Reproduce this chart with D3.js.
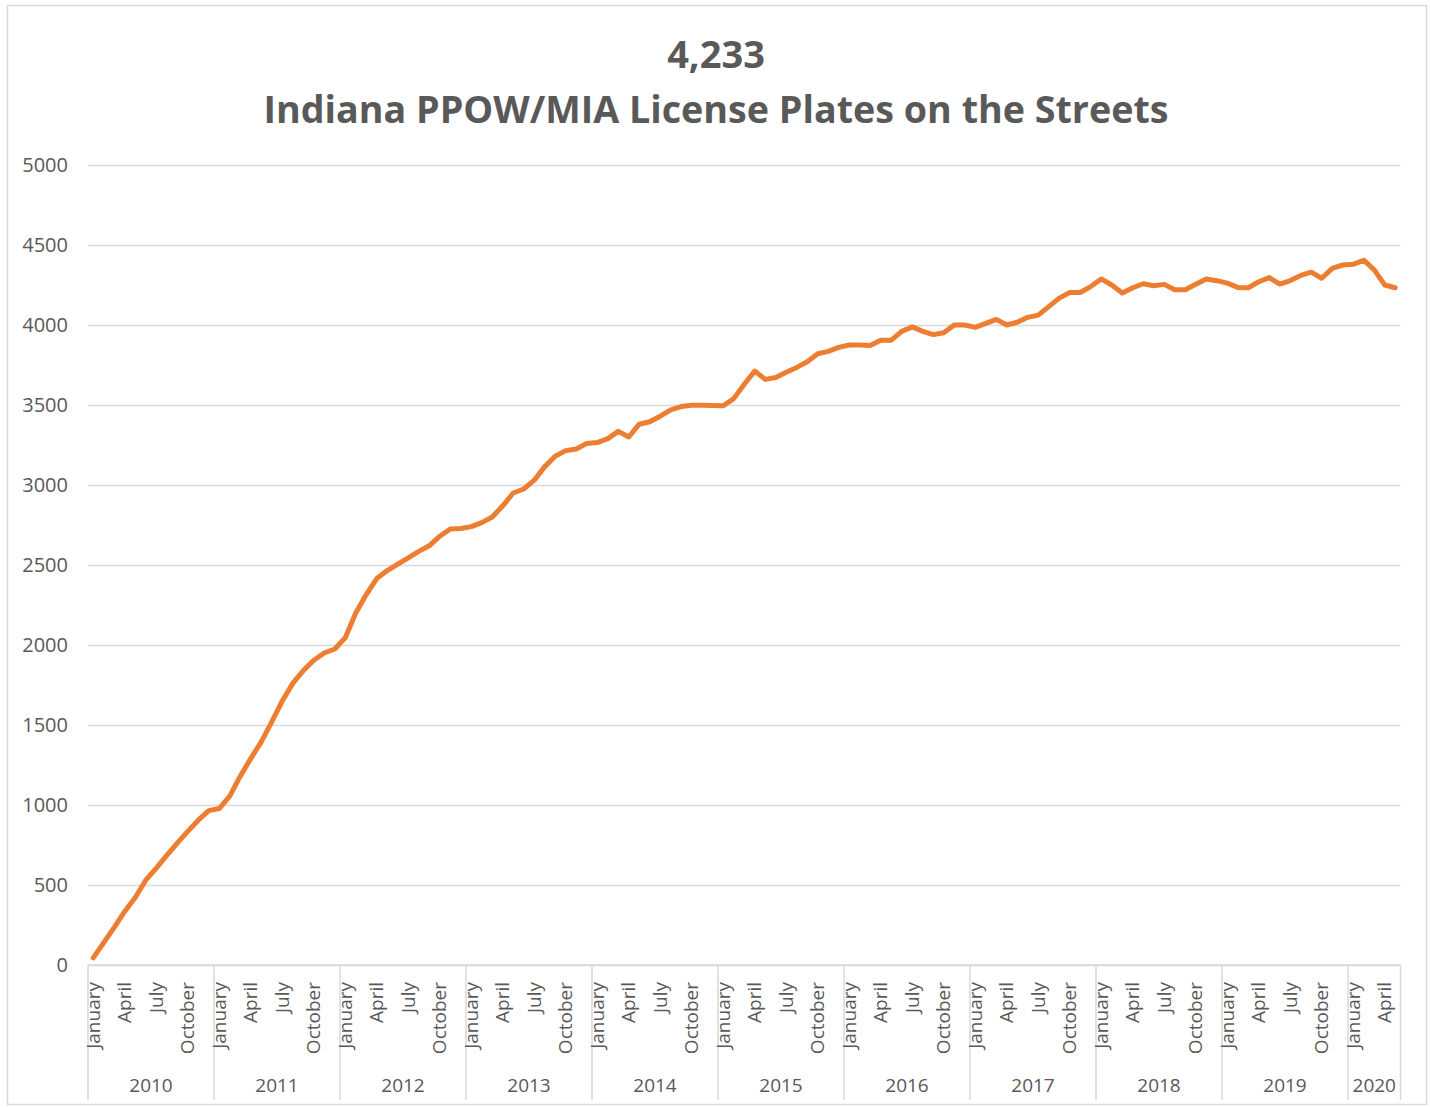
<!DOCTYPE html>
<html>
<head>
<meta charset="utf-8">
<title>Indiana PPOW/MIA License Plates on the Streets</title>
<script src="https://cdn.jsdelivr.net/npm/d3@7"></script>
<style>
  html, body { margin: 0; padding: 0; background: #ffffff; }
  #chart { width: 1430px; height: 1107px; }
  text { font-family: "Open Sans", "Liberation Sans", sans-serif; fill: #595959; }
</style>
</head>
<body>
<div id="chart"></div>
<script>
// Monthly counts of PPOW/MIA plates (January 2010 - May 2020).
const counts2010 = [45, 140, 235, 335, 422, 530, 605, 685, 762, 835, 905, 965];
const counts2011 = [978, 1055, 1180, 1290, 1395, 1520, 1650, 1760, 1840, 1905, 1950, 1975];
const counts2012 = [2045, 2200, 2315, 2415, 2465, 2505, 2545, 2585, 2620, 2680, 2725, 2728];
const counts2013 = [2740, 2765, 2800, 2870, 2950, 2975, 3030, 3115, 3180, 3215, 3225, 3260];
const counts2014 = [3265, 3290, 3335, 3300, 3380, 3395, 3430, 3470, 3490, 3498, 3498, 3497];
const counts2015 = [3495, 3540, 3630, 3712, 3660, 3672, 3705, 3735, 3770, 3820, 3835, 3860];
const counts2016 = [3875, 3875, 3872, 3905, 3905, 3960, 3988, 3960, 3940, 3952, 4000, 4000];
const counts2017 = [3985, 4010, 4035, 4000, 4017, 4048, 4062, 4115, 4168, 4203, 4203, 4240];
const counts2018 = [4288, 4250, 4200, 4233, 4258, 4245, 4254, 4220, 4220, 4255, 4288, 4277];
const counts2019 = [4262, 4235, 4233, 4270, 4296, 4255, 4278, 4310, 4330, 4292, 4354, 4375];
const counts2020 = [4379, 4405, 4345, 4250, 4233];

const years = [2010, 2011, 2012, 2013, 2014, 2015, 2016, 2017, 2018, 2019, 2020];
const monthNames = ["January", "February", "March", "April", "May", "June",
  "July", "August", "September", "October", "November", "December"];
const labeledMonths = ["January", "April", "July", "October"];
const yTicks = [0, 500, 1000, 1500, 2000, 2500, 3000, 3500, 4000, 4500, 5000];
const titleLines = ["4,233", "Indiana PPOW/MIA License Plates on the Streets"];

(function drawPlatesChart() {
  "use strict";

  const yearCounts = [counts2010, counts2011, counts2012, counts2013, counts2014, counts2015,
    counts2016, counts2017, counts2018, counts2019, counts2020];

  // One record per month, keyed by its running index.
  const records = [];
  years.forEach(function addYear(year, yi) {
    yearCounts[yi].forEach(function addMonth(value, mi) {
      records.push({ index: records.length, year: year, month: monthNames[mi], value: value });
    });
  });

  const width = 1430;
  const height = 1107;
  const plot = { left: 88, right: 1400.5, top: 165, bottom: 965 };
  const gridColor = "#d9d9d9";

  const svg = d3.select("#chart")
    .append("svg")
    .attr("width", width)
    .attr("height", height);

  // Outer chart frame.
  svg.append("rect")
    .attr("x", 7.5).attr("y", 5.5)
    .attr("width", 1419).attr("height", 1099)
    .attr("fill", "#ffffff")
    .attr("stroke", gridColor)
    .attr("stroke-width", 1.5);

  const xScale = d3.scaleBand()
    .domain(records.map(function key(d) { return d.index; }))
    .range([plot.left, plot.right])
    .padding(0);
  const yScale = d3.scaleLinear()
    .domain([0, 5000])
    .range([plot.bottom, plot.top]);

  // Titles.
  svg.append("text")
    .attr("x", 716).attr("y", 68)
    .attr("text-anchor", "middle")
    .style("font-size", "38px").style("font-weight", "700")
    .text(titleLines[0]);
  svg.append("text")
    .attr("x", 716).attr("y", 123)
    .attr("text-anchor", "middle")
    .attr("textLength", 905)
    .attr("lengthAdjust", "spacingAndGlyphs")
    .style("font-size", "38px").style("font-weight", "700")
    .text(titleLines[1]);

  // Horizontal gridlines with value labels.
  const yAxis = svg.append("g")
    .attr("transform", "translate(" + plot.left + ",0)")
    .call(d3.axisLeft(yScale)
      .tickValues(yTicks)
      .tickFormat(d3.format("d"))
      .tickSize(-(plot.right - plot.left))
      .tickPadding(20));
  yAxis.select(".domain").remove();
  yAxis.selectAll(".tick line").attr("stroke", gridColor).attr("stroke-width", 1.3);
  yAxis.selectAll(".tick text")
    .style("font-size", "20px")
    .style("font-family", "'Open Sans', sans-serif")
    .attr("fill", "#595959");

  // Category axis: baseline, year separators, month labels and year labels.
  const xAxis = svg.append("g").attr("class", "x-axis");
  xAxis.append("line")
    .attr("x1", plot.left).attr("x2", plot.right)
    .attr("y1", plot.bottom).attr("y2", plot.bottom)
    .attr("stroke", gridColor).attr("stroke-width", 1.5);

  const yearStarts = years.map(function firstOfYear(year) {
    return records.find(function match(d) { return d.year === year; });
  });
  const boundaries = yearStarts.map(function left(d) { return xScale(d.index); }).concat([plot.right]);

  xAxis.selectAll(".year-sep")
    .data(boundaries)
    .enter()
    .append("line")
    .attr("class", "year-sep")
    .attr("x1", function x(d) { return d; })
    .attr("x2", function x(d) { return d; })
    .attr("y1", plot.bottom)
    .attr("y2", 1100)
    .attr("stroke", gridColor)
    .attr("stroke-width", 1.5);

  xAxis.selectAll(".month-label")
    .data(records.filter(function labeled(d) { return labeledMonths.indexOf(d.month) >= 0; }))
    .enter()
    .append("text")
    .attr("class", "month-label")
    .attr("transform", function place(d) {
      const cx = xScale(d.index) + xScale.bandwidth() / 2;
      return "translate(" + cx + ",982) rotate(-90)";
    })
    .attr("dy", "0.35em")
    .attr("text-anchor", "end")
    .style("font-size", "19px")
    .text(function label(d) { return d.month; });

  xAxis.selectAll(".year-label")
    .data(years)
    .enter()
    .append("text")
    .attr("class", "year-label")
    .attr("x", function center(d, i) { return (boundaries[i] + boundaries[i + 1]) / 2; })
    .attr("y", 1092)
    .attr("text-anchor", "middle")
    .style("font-size", "19px")
    .text(function label(d) { return d; });

  // The series line.
  const line = d3.line()
    .x(function lx(d) { return xScale(d.index) + xScale.bandwidth() / 2; })
    .y(function ly(d) { return yScale(d.value); });

  svg.append("path")
    .datum(records)
    .attr("d", line)
    .attr("fill", "none")
    .attr("stroke", "#ED7D31")
    .attr("stroke-width", 5)
    .attr("stroke-linejoin", "round")
    .attr("stroke-linecap", "round");
})();
</script>
</body>
</html>
